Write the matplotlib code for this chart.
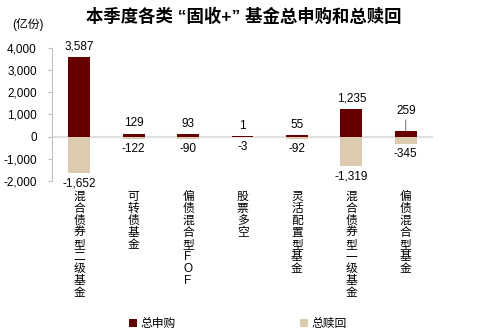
import matplotlib.pyplot as plt
import numpy as np

plt.rcParams['font.family'] = ['Liberation Sans', 'Noto Sans CJK SC', 'DejaVu Sans']

# 各类基金的总申购 / 总赎回（亿份）
categories = ["混合债券型二级基金", "可转债基金", "偏债混合型FOF", "股票多空",
              "灵活配置型基金", "混合债券型一级基金", "偏债混合型基金"]
subscribe = [3587, 129, 93, 1, 55, 1235, 259]
redeem = [-1652, -122, -90, -3, -92, -1319, -345]

c_sub = "#660000"
c_red = "#ddcbb0"

fig = plt.figure(figsize=(4.88, 3.36), dpi=100)
ax = fig.add_axes([0.1066, 0.4613, 0.7807, 0.3973])

x = np.arange(len(categories))
ax.bar(x, subscribe, width=0.4, color=c_sub, label="总申购", zorder=2)
ax.bar(x, redeem, width=0.4, color=c_red, label="总赎回", zorder=2)
ax.axhline(0, color="#e0e0e0", lw=1.5, zorder=1)

for i, (s, r) in enumerate(zip(subscribe, redeem)):
    if i == 6:
        # 标签抬高，用引线连到柱顶
        ax.annotate(f"{s:,}", (i, s), xytext=(0, 10), textcoords="offset points",
                    ha="center", va="bottom", fontsize=8.5,
                    arrowprops=dict(arrowstyle="-", color="#555555", lw=0.6,
                                    shrinkA=0, shrinkB=0))
    else:
        ax.annotate(f"{s:,}", (i, s), xytext=(0, 3), textcoords="offset points",
                    ha="center", va="bottom", fontsize=8.5)
    ax.annotate(f"{r:,}", (i, r), xytext=(0, -3), textcoords="offset points",
                ha="center", va="top", fontsize=8.5)

ax.set_xlim(-0.5, len(categories) - 0.5)
ax.set_ylim(-2000, 4000)
ax.set_yticks([-2000, -1000, 0, 1000, 2000, 3000, 4000])
ax.set_yticklabels([f"{v:,}" for v in [-2000, -1000, 0, 1000, 2000, 3000, 4000]], fontsize=8.5)
ax.tick_params(axis="y", length=3, color="#bfbfbf", pad=8)

ax.set_xticks(x)
ax.set_xticklabels(["\n".join(c) for c in categories], fontsize=8.5, linespacing=1.0)
ax.tick_params(axis="x", length=0, pad=7)

for sp in ["top", "right", "bottom"]:
    ax.spines[sp].set_visible(False)
ax.spines["left"].set_color("#bfbfbf")

fig.text(0.500, 0.952, "本季度各类 “固收+” 基金总申购和总赎回", ha="center", va="center",
         fontsize=12.5, fontweight="bold")
fig.text(0.025, 0.928, "(亿份)", ha="left", va="center", fontsize=8.5)

fig.legend(loc="center", bbox_to_anchor=(0.487, 0.035), ncol=2, frameon=False,
           fontsize=8.5, handlelength=0.7, handleheight=0.7, handletextpad=0.3,
           columnspacing=10.5)

fig.savefig("out.png", dpi=100)
